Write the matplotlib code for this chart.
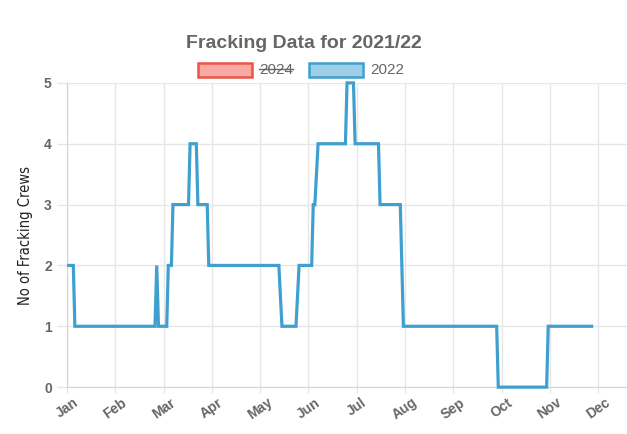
import calendar
import matplotlib.pyplot as plt
from matplotlib.patches import Rectangle
from matplotlib.lines import Line2D

# Data (2022 crews)
dates = ['2022-01-01', '2022-01-05', '2022-01-06', '2022-02-24', '2022-02-25',
         '2022-02-26', '2022-03-03', '2022-03-04', '2022-03-06', '2022-03-07',
         '2022-03-17', '2022-03-18', '2022-03-22', '2022-03-23', '2022-03-29',
         '2022-03-30', '2022-05-13', '2022-05-15', '2022-05-24', '2022-05-26',
         '2022-06-03', '2022-06-04', '2022-06-05', '2022-06-07', '2022-06-24',
         '2022-06-25', '2022-06-29', '2022-06-30', '2022-07-15', '2022-07-16',
         '2022-07-29', '2022-07-31', '2022-09-28', '2022-09-29', '2022-10-30',
         '2022-10-31', '2022-11-28']
crews = [2, 2, 1, 1, 2, 1, 1, 2, 2, 3, 3, 4, 4, 3, 3, 2, 2, 1, 1, 2,
         2, 3, 3, 4, 4, 5, 5, 4, 4, 3, 3, 1, 1, 0, 0, 1, 1]
months = ['Jan', 'Feb', 'Mar', 'Apr', 'May', 'Jun',
          'Jul', 'Aug', 'Sep', 'Oct', 'Nov', 'Dec']
yticks = [0, 1, 2, 3, 4, 5]


# months are evenly spaced on the axis, so place each date as a month fraction
def month_pos(d):
    y, m, day = (int(p) for p in d.split('-'))
    return (m - 1) + (day - 1) / calendar.monthrange(y, m)[1]


xs = [month_pos(d) for d in dates]

grey = '#666666'
grid = '#e6e6e6'
blue = '#3fa0cf'

plt.rcParams['font.family'] = ['Liberation Sans', 'DejaVu Sans']

fig = plt.figure(figsize=(6.27, 4.34), dpi=100)
ax = fig.add_axes([0.107, 0.108, 0.893, 0.701])

ax.plot(xs, crews, color=blue, linewidth=2.3, solid_joinstyle='miter',
        solid_capstyle='butt', zorder=3, clip_on=False)

ax.set_xlim(0, 11.6)
ax.set_ylim(0, 5)
ax.set_xticks(range(len(months)))
ax.set_xticklabels(months, rotation=35, ha='center',
                   fontsize=10, fontweight='bold', color=grey)
ax.set_yticks(yticks)
ax.set_yticklabels([str(t) for t in yticks], fontsize=10, fontweight='bold', color=grey)
ax.tick_params(axis='y', length=7, width=1, color=grid, pad=4)
ax.tick_params(axis='x', length=4, width=1, color=grid, pad=2)
ax.grid(True, color=grid, linewidth=1)
ax.set_axisbelow(True)
for s in ['top', 'right']:
    ax.spines[s].set_visible(False)
for s in ['left', 'bottom']:
    ax.spines[s].set_color('#d4d4d4')

ax.set_ylabel('No of Fracking Crews', fontsize=10.5, color='#222222',
              family='DejaVu Sans', stretch='condensed', labelpad=8)

fig.text(0.485, 0.899, 'Fracking Data for 2021/22', ha='center', va='center',
         fontsize=14, fontweight='bold', color=grey)

# legend drawn by hand (Chart.js style, 2024 hidden and struck through)
ly = 1 - 70 / 434
bw, bh = 54 / 627, 14 / 434
fig.add_artist(Rectangle((198 / 627, ly - bh / 2), bw, bh, transform=fig.transFigure,
                         facecolor='#f7aaa3', edgecolor='#ea5546', linewidth=1.8))
fig.text(259 / 627, ly, '2024', ha='left', va='center', fontsize=11, color=grey)
fig.add_artist(Line2D([259 / 627, 293 / 627], [ly + 0.002, ly + 0.002],
                      transform=fig.transFigure, color=grey, linewidth=1))
fig.add_artist(Rectangle((309 / 627, ly - bh / 2), bw, bh, transform=fig.transFigure,
                         facecolor='#9fcfe6', edgecolor=blue, linewidth=1.8))
fig.text(370 / 627, ly, '2022', ha='left', va='center', fontsize=11, color=grey)

fig.savefig('out.png', dpi=100)
